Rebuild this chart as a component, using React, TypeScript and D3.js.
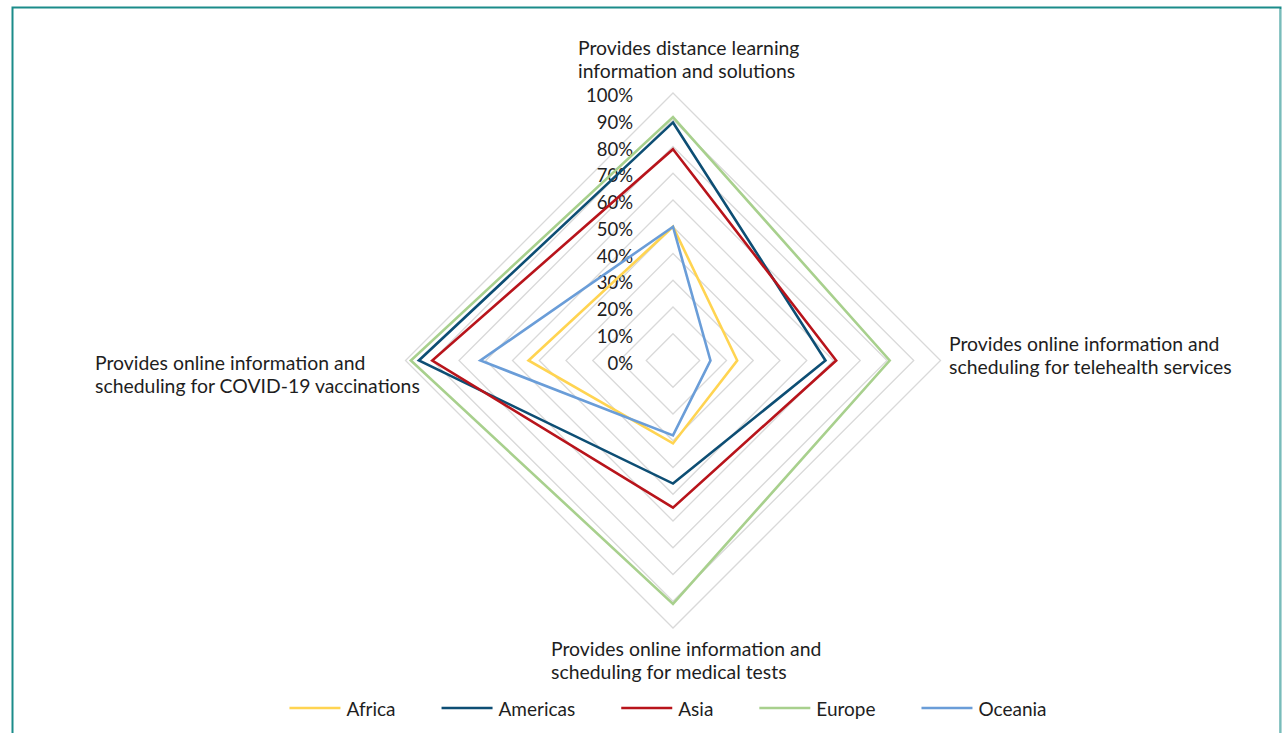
import React from "react";
import * as d3 from "d3";

const axes = [
  ["Provides distance learning", "information and solutions"],
  ["Provides online information and", "scheduling for telehealth services"],
  ["Provides online information and", "scheduling for medical tests"],
  ["Provides online information and", "scheduling for COVID-19 vaccinations"],
];
const seriesNames = ["Africa", "Americas", "Asia", "Europe", "Oceania"];
const africa = [0.5, 0.24, 0.31, 0.54];
const americas = [0.89, 0.57, 0.46, 0.95];
const asia = [0.79, 0.61, 0.55, 0.9];
const europe = [0.91, 0.81, 0.91, 0.98];
const oceania = [0.5, 0.14, 0.28, 0.72];
const seriesColors = ["#FFD451", "#0D4E74", "#B8141B", "#A8D08D", "#6A9DD8"];
const ticks = [0, 0.1, 0.2, 0.3, 0.4, 0.5, 0.6, 0.7, 0.8, 0.9, 1.0];

const W = 1282;
const H = 733;
const cx = 673;
const cy = 360.5;
const R = 267.5;
const FONT = "Lato, 'Open Sans', sans-serif";
const TXT = "#1e1e1e";
const LEG_FS = 19;

function measure(txt: string, size: number): number {
  try {
    const c = document.createElement("canvas").getContext("2d");
    if (c) {
      c.font = `${size}px Lato`;
      return c.measureText(txt).width;
    }
  } catch (e) {}
  return txt.length * size * 0.5;
}

export default function App() {
  const seriesData = [africa, americas, asia, europe, oceania];
  const r = d3.scaleLinear().domain([0, 1]).range([0, R]);
  const angle = (i: number) => (i * 2 * Math.PI) / axes.length;
  const pt = (i: number, v: number): [number, number] => [
    cx + r(v) * Math.sin(angle(i)),
    cy - r(v) * Math.cos(angle(i)),
  ];
  const closed = d3.line<[number, number]>().curve(d3.curveLinearClosed);

  const labelPos = [
    { x: 578, y: 47 },
    { x: 949, y: 343 },
    { x: 551, y: 648 },
    { x: 95, y: 362 },
  ];

  // legend layout
  const legendY = 708;
  const sampleW = 51;
  const textGap = 6;
  const textWidths = seriesNames.map((n) => measure(n, LEG_FS));
  const itemGap = 46;
  const itemWidths = textWidths.map((t) => sampleW + textGap + t);
  const total = d3.sum(itemWidths) + itemGap * (seriesNames.length - 1);
  let lx = 668 - total / 2;
  const legendItems = seriesNames.map((n, i) => {
    const x = lx;
    lx += itemWidths[i] + itemGap;
    return { n, x, color: seriesColors[i] };
  });

  return (
    <svg
      width={W}
      height={H}
      style={{ position: "absolute", left: 0, top: 0, background: "#fff" }}
      fontFamily={FONT}
    >
      <rect x={0} y={0} width={W} height={H} fill="#fff" />
      <rect x={12.5} y={7.5} width={1268} height={740} fill="none" stroke="#1B8C8A" strokeWidth={2} />
      <line x1={1281} y1={9} x2={1281} y2={H} stroke="#d6ecea" strokeWidth={1} />
      {ticks.slice(1).map((t) => (
        <path
          key={t}
          d={closed(axes.map((_, i) => pt(i, t)))!}
          fill="none"
          stroke="#D9D9D9"
          strokeWidth={1.3}
        />
      ))}
      {ticks.map((t) => (
        <text
          key={"l" + t}
          x={cx - 40}
          y={cy - r(t) + 2}
          textAnchor="end"
          dominantBaseline="central"
          fontSize={18.5}
          fill={TXT}
        >
          {d3.format(".0%")(t)}
        </text>
      ))}
      {seriesData.map((vals, s) => (
        <path
          key={seriesNames[s]}
          d={closed(vals.map((v, i) => pt(i, v)))!}
          fill="none"
          stroke={seriesColors[s]}
          strokeWidth={2.6}
          strokeLinejoin="miter"
        />
      ))}
      {axes.map((lines, i) => (
        <text key={"a" + i} fontSize={19.4} fill={TXT}>
          {lines.map((ln, k) => (
            <tspan key={k} x={labelPos[i].x} y={labelPos[i].y + k * 23} dominantBaseline="central">
              {ln}
            </tspan>
          ))}
        </text>
      ))}
      {legendItems.map((it) => (
        <g key={it.n}>
          <line x1={it.x} x2={it.x + sampleW} y1={legendY} y2={legendY} stroke={it.color} strokeWidth={2.6} />
          <text x={it.x + sampleW + textGap} y={legendY} dominantBaseline="central" fontSize={LEG_FS} fill={TXT}>
            {it.n}
          </text>
        </g>
      ))}
    </svg>
  );
}
